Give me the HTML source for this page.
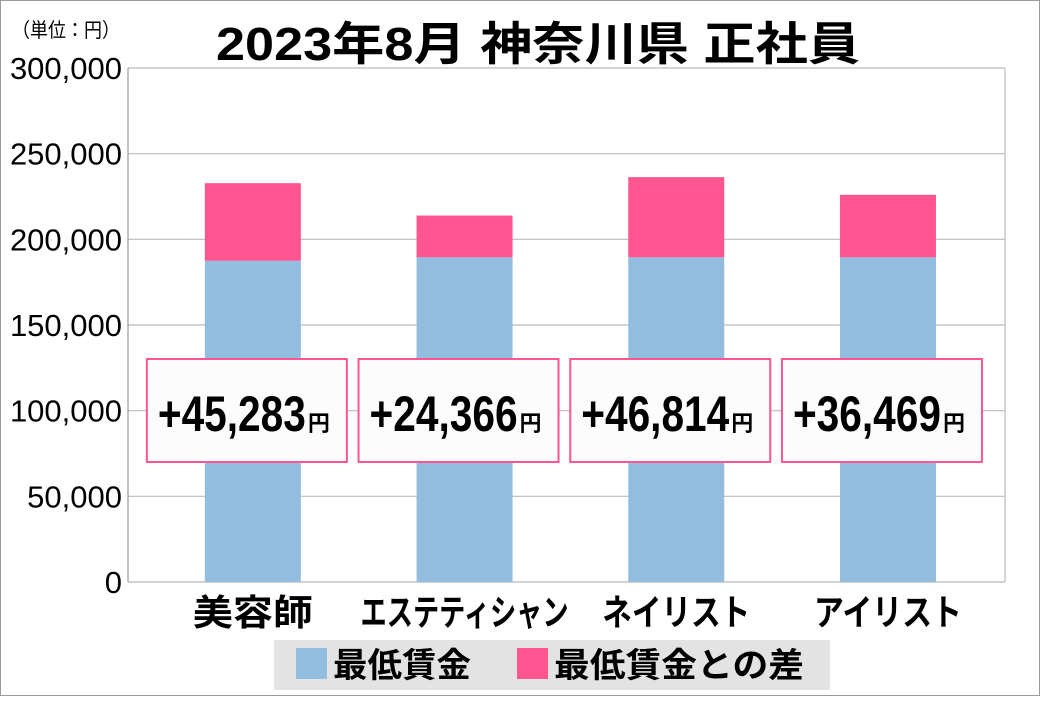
<!DOCTYPE html>
<html><head><meta charset="utf-8"><style>
body{margin:0;background:#fff}
svg text{font-family:"Liberation Sans","Noto Sans CJK JP",sans-serif}
</style></head><body>
<svg width="1040" height="696" viewBox="0 0 1040 696" xmlns="http://www.w3.org/2000/svg">
<rect x="0.5" y="0.5" width="1039" height="695" fill="#fff" stroke="#999"/>
<text x="12" y="37" font-size="20" textLength="108" lengthAdjust="spacingAndGlyphs">（単位：円）</text>
<text x="216" y="60" font-size="46" font-weight="bold" textLength="644" lengthAdjust="spacingAndGlyphs">2023年8月 神奈川県 正社員</text>
<g id="grid"></g><g id="bars"></g><g id="labels"></g>
<rect x="274" y="640" width="556" height="50" fill="#e3e3e3"/>
<rect x="296" y="648" width="31" height="31" fill="#92bddf"/>
<text x="333" y="677" font-size="34" font-weight="bold" textLength="138" lengthAdjust="spacingAndGlyphs">最低賃金</text>
<rect x="517" y="648" width="31" height="31" fill="#ff5590"/>
<text x="554" y="677" font-size="34" font-weight="bold" textLength="250" lengthAdjust="spacingAndGlyphs">最低賃金との差</text>
</svg>
<script>
const categories=["美容師","エステティシャン","ネイリスト","アイリスト"];
const baseValues=[187500,189500,189500,189500];
const diffValues=[45283,24366,46814,36469];
const ticks=[0,50000,100000,150000,200000,250000,300000];
const NS="http://www.w3.org/2000/svg";
const L=128,R=1005,T=68,B=582,MAX=300000;
const y=v=>B-(v/MAX)*(B-T);
const step=211.7,x0=147;
const cx=i=>x0+step*(i+0.5);
function mk(tag,a,p){const e=document.createElementNS(NS,tag);for(const k in a)e.setAttribute(k,a[k]);p.appendChild(e);return e;}
const g=document.getElementById('grid'),b=document.getElementById('bars'),lb=document.getElementById('labels');
ticks.forEach(t=>{
 const l=mk('line',{x1:L,x2:R,y1:y(t),y2:y(t),stroke:'#bbb','stroke-width':1.2},g);
 
 
 const tx=mk('text',{x:L-6,y:y(t)+11,'font-size':31,'text-anchor':'end'},g);
 tx.textContent=t.toLocaleString('en-US');
 
 
});
const ax=mk('line',{x1:L,x2:L,y1:T,y2:B,stroke:'#999','stroke-width':1.2},g);


const rx=mk('line',{x1:R,x2:R,y1:T,y2:B,stroke:'#bbb','stroke-width':1.2},g);


const bw=96;
const catW=[120,208,148,148];
categories.forEach((c,i)=>{
 const base=baseValues[i],d=diffValues[i];
 const r1=mk('rect',{x:cx(i)-bw/2,y:y(base),width:bw,height:B-y(base),fill:'#92bddf'},b);
 
 
 const r2=mk('rect',{x:cx(i)-bw/2,y:y(base+d),width:bw,height:y(base)-y(base+d),fill:'#ff5590'},b);
 
 
 const left=cx(i)-106;
 const bx=mk('rect',{x:left,y:359,width:200,height:103,fill:'#fcfcfc',stroke:'#ff5590','stroke-width':2},lb);
 
 
 const t=mk('text',{x:left+11,y:431,'font-size':50,'font-weight':'bold',textLength:148,lengthAdjust:'spacingAndGlyphs'},lb);
 t.textContent='+'+d.toLocaleString('en-US');
 
 
 const yen=mk('text',{x:left+161,y:431,'font-size':22,'font-weight':'bold'},lb);
 yen.textContent='円';
 
 
 const cl=mk('text',{x:cx(i),y:625,'font-size':36,'font-weight':'bold','text-anchor':'middle',textLength:catW[i],lengthAdjust:'spacingAndGlyphs'},lb);
 cl.textContent=c;
 
 
});
</script>
</body></html>
